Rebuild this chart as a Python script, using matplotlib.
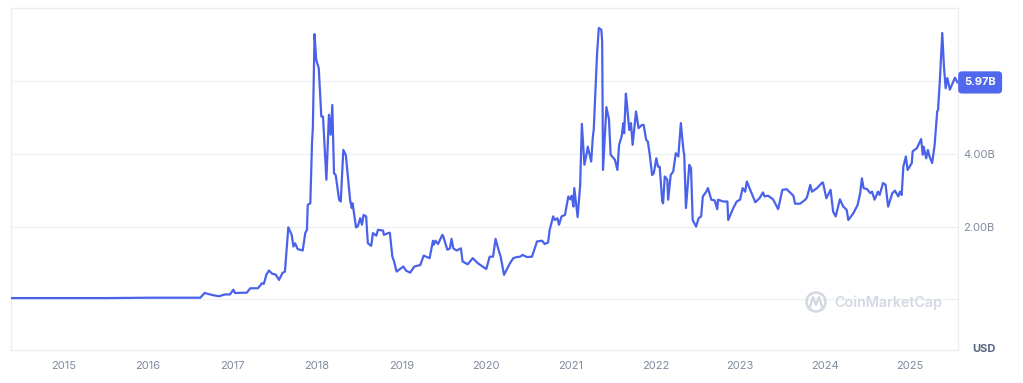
import matplotlib
matplotlib.use("Agg")
import matplotlib.pyplot as plt
from matplotlib.patches import Circle

plt.rcParams["font.family"] = ["Inter", "DejaVu Sans"]

LINE_COLOR = "#4a62ea"
TICK_COLOR = "#808a9d"
GRID_COLOR = "#eef0f3"

# decimal year, value in billions USD
years = [
    2014.38, 2015.00, 2015.50, 2016.00, 2016.30, 2016.62, 2016.67, 2016.77, 2016.84, 2016.91,
    2016.97, 2017.01, 2017.03, 2017.17, 2017.21, 2017.30, 2017.35, 2017.37, 2017.40, 2017.43,
    2017.47, 2017.51, 2017.55, 2017.59, 2017.62, 2017.66, 2017.70, 2017.72, 2017.74, 2017.77,
    2017.83, 2017.86, 2017.88, 2017.89, 2017.92, 2017.94, 2017.95, 2017.97, 2017.99, 2018.02,
    2018.05, 2018.07, 2018.11, 2018.14, 2018.16, 2018.18, 2018.20, 2018.22, 2018.26, 2018.28,
    2018.31, 2018.34, 2018.39, 2018.41, 2018.42, 2018.46, 2018.48, 2018.51, 2018.53, 2018.55,
    2018.58, 2018.60, 2018.64, 2018.66, 2018.70, 2018.72, 2018.78, 2018.79, 2018.84, 2018.86,
    2018.89, 2018.91, 2018.94, 2018.98, 2019.02, 2019.05, 2019.10, 2019.15, 2019.22, 2019.26,
    2019.33, 2019.37, 2019.38, 2019.40, 2019.43, 2019.48, 2019.49, 2019.54, 2019.57, 2019.59,
    2019.61, 2019.65, 2019.70, 2019.72, 2019.78, 2019.84, 2019.90, 2020.00, 2020.04, 2020.08,
    2020.11, 2020.14, 2020.17, 2020.21, 2020.25, 2020.28, 2020.32, 2020.36, 2020.40, 2020.43,
    2020.48, 2020.54, 2020.60, 2020.66, 2020.69, 2020.73, 2020.75, 2020.79, 2020.81, 2020.84,
    2020.86, 2020.89, 2020.93, 2020.97, 2020.99, 2021.01, 2021.03, 2021.04, 2021.08, 2021.11,
    2021.13, 2021.16, 2021.18, 2021.20, 2021.24, 2021.26, 2021.27, 2021.31, 2021.33, 2021.36,
    2021.37, 2021.38, 2021.42, 2021.45, 2021.47, 2021.52, 2021.55, 2021.57, 2021.60, 2021.62,
    2021.63, 2021.65, 2021.66, 2021.69, 2021.71, 2021.73, 2021.77, 2021.80, 2021.84, 2021.86,
    2021.89, 2021.91, 2021.93, 2021.96, 2021.98, 2022.01, 2022.03, 2022.05, 2022.08, 2022.09,
    2022.11, 2022.14, 2022.15, 2022.18, 2022.21, 2022.24, 2022.27, 2022.30, 2022.33, 2022.34,
    2022.36, 2022.40, 2022.42, 2022.44, 2022.48, 2022.51, 2022.54, 2022.56, 2022.60, 2022.62,
    2022.66, 2022.70, 2022.73, 2022.74, 2022.80, 2022.85, 2022.86, 2022.92, 2022.96, 2023.00,
    2023.03, 2023.06, 2023.08, 2023.12, 2023.18, 2023.23, 2023.27, 2023.29, 2023.33, 2023.39,
    2023.45, 2023.50, 2023.55, 2023.59, 2023.63, 2023.65, 2023.71, 2023.77, 2023.79, 2023.83,
    2023.85, 2023.91, 2023.97, 2023.98, 2024.02, 2024.04, 2024.07, 2024.10, 2024.13, 2024.18,
    2024.22, 2024.26, 2024.28, 2024.34, 2024.36, 2024.39, 2024.42, 2024.44, 2024.46, 2024.50,
    2024.54, 2024.56, 2024.59, 2024.63, 2024.65, 2024.69, 2024.72, 2024.75, 2024.80, 2024.83,
    2024.87, 2024.89, 2024.91, 2024.93, 2024.96, 2024.98, 2025.03, 2025.04, 2025.09, 2025.14,
    2025.16, 2025.17, 2025.20, 2025.22, 2025.24, 2025.27, 2025.30, 2025.33, 2025.34, 2025.36,
    2025.39, 2025.41, 2025.43, 2025.45, 2025.48, 2025.52, 2025.54, 2025.57,
]
values = [
    0.03, 0.03, 0.03, 0.04, 0.04, 0.04, 0.17, 0.11, 0.08, 0.13,
    0.13, 0.26, 0.17, 0.18, 0.30, 0.30, 0.44, 0.42, 0.67, 0.79,
    0.70, 0.68, 0.53, 0.72, 0.76, 1.98, 1.77, 1.45, 1.54, 1.38,
    1.34, 1.82, 1.91, 2.60, 2.64, 4.30, 4.71, 7.30, 6.59, 6.36,
    5.03, 5.03, 3.29, 5.08, 4.53, 5.35, 3.47, 3.42, 2.74, 2.69,
    4.11, 3.97, 2.74, 2.51, 2.64, 1.98, 2.00, 2.23, 2.05, 2.32,
    2.28, 1.54, 1.47, 1.82, 1.75, 1.91, 1.89, 1.77, 1.82, 1.83,
    1.17, 1.04, 0.76, 0.83, 0.90, 0.79, 0.73, 0.90, 0.94, 1.20,
    1.13, 1.61, 1.50, 1.61, 1.52, 1.77, 1.74, 1.36, 1.40, 1.66,
    1.40, 1.34, 1.40, 1.04, 0.96, 1.13, 0.99, 0.83, 1.17, 1.17,
    1.66, 1.40, 1.17, 0.67, 0.85, 0.99, 1.13, 1.16, 1.17, 1.22,
    1.16, 1.17, 1.59, 1.61, 1.52, 1.56, 1.91, 2.28, 2.18, 2.23,
    2.05, 2.28, 2.32, 2.83, 2.75, 2.85, 2.55, 3.06, 2.26, 3.15,
    4.83, 3.70, 3.93, 4.20, 3.79, 4.48, 4.66, 6.78, 7.47, 7.42,
    7.10, 3.56, 5.29, 4.96, 3.98, 3.84, 3.56, 4.25, 4.48, 4.85,
    4.57, 5.66, 5.44, 4.66, 4.85, 4.25, 5.17, 4.71, 4.80, 4.80,
    4.39, 4.34, 4.02, 3.42, 3.47, 3.88, 3.65, 3.65, 2.69, 2.64,
    3.38, 3.29, 2.74, 3.42, 3.52, 4.02, 3.93, 4.85, 4.11, 3.98,
    2.51, 3.70, 3.61, 2.18, 2.00, 2.23, 2.28, 2.83, 2.96, 3.06,
    2.74, 2.72, 2.48, 2.74, 2.69, 2.69, 2.18, 2.51, 2.69, 2.74,
    3.06, 2.96, 3.24, 3.01, 2.67, 2.78, 2.94, 2.83, 2.85, 2.75,
    2.48, 3.01, 3.03, 2.94, 2.85, 2.63, 2.63, 2.74, 2.80, 3.15,
    2.96, 3.06, 3.21, 3.21, 2.78, 2.87, 3.01, 2.41, 2.28, 2.75,
    2.55, 2.46, 2.18, 2.37, 2.46, 2.60, 2.92, 3.33, 3.06, 3.03,
    2.92, 2.96, 2.74, 2.96, 2.87, 3.20, 3.15, 2.55, 2.92, 2.99,
    2.83, 2.96, 2.87, 3.65, 3.93, 3.56, 3.75, 4.07, 4.16, 4.41,
    3.98, 4.20, 3.88, 4.11, 3.93, 3.75, 4.25, 5.17, 5.21, 5.95,
    7.33, 6.41, 5.81, 6.09, 5.77, 5.99, 6.10, 5.97,
]

year_ticks = list(range(2015, 2026))
y_ticks = [2, 4]
y_tick_labels = ["2.00B", "4.00B"]
grid_levels = [0, 2, 4, 6]
last_label = "5.97B"


fig = plt.figure(figsize=(10.23, 3.83), dpi=100)
ax = fig.add_axes([11 / 1023, 33 / 383, 947 / 1023, 342 / 383])

for g in grid_levels:
    ax.axhline(g, color=GRID_COLOR, linewidth=1, zorder=0)

ax.plot(years, values, color=LINE_COLOR, linewidth=1.6, solid_joinstyle="round", zorder=3)

ax.set_xlim(2014.382, 2025.576)
ax.set_ylim(-1.40, 8.02)

ax.set_xticks(year_ticks)
ax.set_xticklabels([str(y) for y in year_ticks])
ax.yaxis.tick_right()
ax.set_yticks(y_ticks)
ax.set_yticklabels(y_tick_labels)
ax.tick_params(axis="x", length=0, pad=8, labelsize=8, labelcolor=TICK_COLOR)
ax.tick_params(axis="y", length=0, pad=4, labelsize=8, labelcolor=TICK_COLOR)

for side in ["top", "bottom", "left", "right"]:
    ax.spines[side].set_color("#eceef2")
    ax.spines[side].set_linewidth(1)

# current value badge
ax.annotate(
    last_label,
    xy=(1.0, values[-1]),
    xycoords=("axes fraction", "data"),
    xytext=(4.5, 0),
    textcoords="offset points",
    ha="left",
    va="center",
    fontsize=8,
    fontweight="bold",
    color="white",
    bbox=dict(boxstyle="round,pad=0.55,rounding_size=0.35", fc="#5068ee", ec="none"),
    annotation_clip=False,
    zorder=5,
)

fig.text(972 / 1023, 1 - 349 / 383, "USD", ha="left", va="center",
         fontsize=8, fontweight="bold", color="#58667e")

# watermark
wm_color = "#d3d8e2"
fig.text(834 / 1023, 1 - 303 / 383, "CoinMarketCap", ha="left", va="center",
         fontsize=10.3, fontweight="semibold", color=wm_color)
logo = Circle((8.16, 0.81), 0.095, transform=fig.dpi_scale_trans,
              fill=False, ec=wm_color, lw=1.8)
fig.add_artist(logo)
fig.lines.append(plt.Line2D([8.10, 8.13, 8.16, 8.19, 8.22], [0.76, 0.86, 0.78, 0.86, 0.76],
                            transform=fig.dpi_scale_trans, color=wm_color, lw=1.6))

fig.savefig("out.png", dpi=100)
